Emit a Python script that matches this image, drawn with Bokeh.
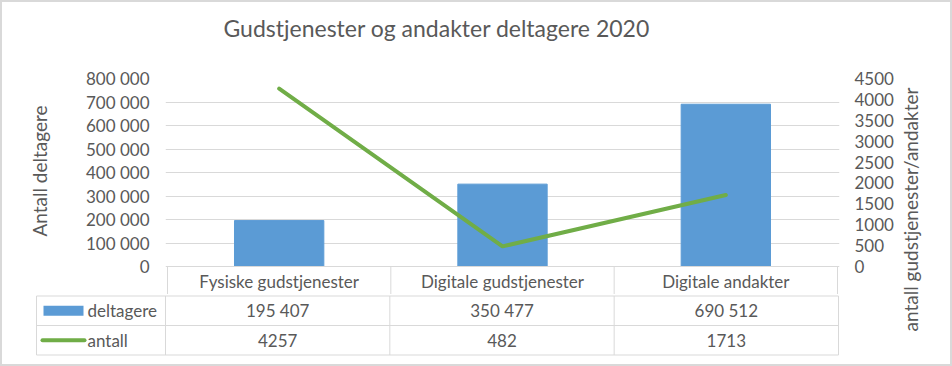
from bokeh.plotting import figure
from bokeh.models import Range1d, LinearAxis, FixedTicker, Title
from bokeh.layouts import row, column
from bokeh.core.properties import value
from bokeh.embed import file_html
from bokeh.resources import INLINE

# ---------------- data ----------------
categories = ["Fysiske gudstjenester", "Digitale gudstjenester", "Digitale andakter"]
deltagere = [195407, 350477, 690512]
antall = [4257, 482, 1713]
series_names = ["deltagere", "antall"]
left_ticks = [0, 100000, 200000, 300000, 400000, 500000, 600000, 700000, 800000]
left_tick_labels = ["0", "100 000", "200 000", "300 000", "400 000",
                    "500 000", "600 000", "700 000", "800 000"]
right_ticks = [0, 500, 1000, 1500, 2000, 2500, 3000, 3500, 4000, 4500]
deltagere_labels = ["195 407", "350 477", "690 512"]
antall_labels = ["4257", "482", "1713"]
title_text = "Gudstjenester og andakter deltagere 2020"
left_axis_title = "Antall deltagere"
right_axis_title = "antall gudstjenester/andakter"

# ---------------- style ----------------
BLUE = "#5B9BD5"
GREEN = "#70AD47"
TXT = "#595959"
GRID = "#D9D9D9"
FONT = "Lato"

# layout constants (pixels)
TOTAL_W, TOTAL_H = 952, 366
MAIN_W = 896
LL_W = 82                        # width of the left axis-title strip
CAT_L, CAT_R = 165, 838          # x of category 0 start / category 3 end
PX = (CAT_R - CAT_L) / 3.0       # px per category
FR_TOP = 78                      # frame top (800 000)
ZERO_Y = 266                     # y of value 0
HDR_IN_TOP = 28                  # part of header row inside top figure
ROW_H = 29.5
LEG_L = 36                       # left edge of legend column
YMAX = left_ticks[-1]
YPX = (ZERO_Y - FR_TOP) / YMAX   # px per unit
RMAX = right_ticks[-1]

xs = [i + 0.5 for i in range(len(categories))]

# ---------------- top figure (chart + header row) ----------------
TOP_H = ZERO_Y + HDR_IN_TOP
y0 = -HDR_IN_TOP / YPX
top = figure(width=MAIN_W - LL_W, height=TOP_H, output_backend="svg",
             toolbar_location=None, title=None,
             x_range=Range1d(-2 / PX, 3 + 2 / PX), y_range=Range1d(y0, YMAX),
             min_border_left=CAT_L - 2 - LL_W, min_border_right=MAIN_W - CAT_R - 2,
             min_border_top=FR_TOP, min_border_bottom=0, x_axis_location=None)
top.frame_align = False
top.outline_line_color = None
top.background_fill_color = None
top.border_fill_color = None

spacer = Title(text=" ", text_font_size="2px", standoff=30)
top.add_layout(spacer, "above")
main_title = Title(text=title_text, text_font=FONT, text_font_size="23px",
                   text_font_style="normal", text_color=TXT, align="left",
                   offset=58, standoff=6)
top.add_layout(main_title, "above")

top.xgrid.visible = False
top.ygrid.ticker = FixedTicker(ticks=left_ticks)
top.ygrid.grid_line_color = GRID
top.ygrid.grid_line_width = 1

ya = top.yaxis[0]
ya.ticker = FixedTicker(ticks=left_ticks)
ya.major_label_overrides = {t: l for t, l in zip(left_ticks, left_tick_labels)}
ya.axis_line_color = None
ya.major_tick_line_color = None
ya.minor_tick_line_color = None
ya.major_tick_out = 0
ya.major_tick_in = 0
ya.major_label_standoff = 16
ya.major_label_text_font = FONT
ya.major_label_text_font_size = "17px"
ya.major_label_text_color = TXT

top.extra_y_ranges = {"r": Range1d(y0 * RMAX / YMAX, RMAX)}
ra = LinearAxis(y_range_name="r", ticker=FixedTicker(ticks=right_ticks))
ra.axis_line_color = None
ra.major_tick_line_color = None
ra.minor_tick_line_color = None
ra.major_tick_out = 0
ra.major_tick_in = 0
ra.major_label_standoff = 15
ra.major_label_text_font = FONT
ra.major_label_text_font_size = "17px"
ra.major_label_text_color = TXT
top.add_layout(ra, "right")

top.vbar(x=xs, top=deltagere, width=0.4, color=BLUE)
top.line(x=xs, y=antall, y_range_name="r", line_color=GREEN, line_width=4,
         line_cap="round", line_join="round")

# header row (category axis as table header)
top.segment(x0=[0], y0=[0], x1=[3], y1=[0], line_color=GRID, line_width=1)
top.segment(x0=[0, 1, 2, 3], y0=[0] * 4, x1=[0, 1, 2, 3], y1=[y0] * 4,
            line_color=GRID, line_width=1)
hdr_y = -(ROW_H / 2) / YPX
top.text(x=xs, y=[hdr_y] * 3, text=categories, text_align="center",
         text_baseline="middle", text_font=value(FONT), text_font_size="17px",
         text_color=TXT)

# ---------------- left axis title strip ----------------
LL_CENTER = 170.5
ll = figure(width=LL_W, height=TOP_H, output_backend="svg", toolbar_location=None,
            x_range=Range1d(0, 1), y_range=Range1d(0, 1),
            min_border_left=0, min_border_right=0,
            min_border_top=int(2 * LL_CENTER - TOP_H), min_border_bottom=0,
            x_axis_location=None, y_axis_location=None, title_location="left")
ll.frame_align = False
ll.outline_line_color = None
ll.grid.visible = False
ll.background_fill_color = None
ll.border_fill_color = None
ll.title.text = left_axis_title
ll.title.text_font = FONT
ll.title.text_font_size = "19px"
ll.title.text_font_style = "normal"
ll.title.text_color = TXT
ll.title.align = "center"
ll.title.standoff = 50

# ---------------- bottom figure (data table rows) ----------------
BOT_H = TOTAL_H - TOP_H
BOT_BORDER = 9
pad_top = ZERO_Y + ROW_H - TOP_H           # px from frame top to first line
BOT_FR_H = BOT_H - BOT_BORDER
ys0 = -(BOT_FR_H - pad_top - 2 * ROW_H) / ROW_H
ys1 = 2 + pad_top / ROW_H
bx0 = -(CAT_L - (LEG_L - 2)) / PX
bot = figure(width=MAIN_W, height=BOT_H, output_backend="svg", toolbar_location=None,
             x_range=Range1d(bx0, 3 + 2 / PX), y_range=Range1d(ys0, ys1),
             min_border_left=LEG_L - 2, min_border_right=MAIN_W - CAT_R - 2,
             min_border_top=0, min_border_bottom=BOT_BORDER,
             x_axis_location=None, y_axis_location=None)
bot.frame_align = False
bot.outline_line_color = None
bot.grid.visible = False
bot.background_fill_color = None
bot.border_fill_color = None

legx = -(CAT_L - LEG_L) / PX
bot.segment(x0=[legx] * 3, y0=[0, 1, 2], x1=[3] * 3, y1=[0, 1, 2],
            line_color=GRID, line_width=1)
bot.segment(x0=[legx, 0, 1, 2, 3], y0=[0] * 5, x1=[legx, 0, 1, 2, 3], y1=[2] * 5,
            line_color=GRID, line_width=1)

# legend keys
key_cx = (63 - CAT_L) / PX
bot.rect(x=[key_cx], y=[1.5], width=40, height=10, width_units="screen",
         height_units="screen", fill_color=BLUE, line_color=None)
bot.segment(x0=[(42 - CAT_L) / PX], y0=[0.5], x1=[(84 - CAT_L) / PX], y1=[0.5],
            line_color=GREEN, line_width=4, line_cap="round")
lab_x = (87 - CAT_L) / PX
bot.text(x=[lab_x, lab_x], y=[1.5, 0.5], text=series_names, text_align="left",
         text_baseline="middle", text_font=value(FONT), text_font_size="17px",
         text_color=TXT)

bot.text(x=xs, y=[1.5] * 3, text=deltagere_labels, text_align="center",
         text_baseline="middle", text_font=value(FONT), text_font_size="17px",
         text_color=TXT)
bot.text(x=xs, y=[0.5] * 3, text=antall_labels, text_align="center",
         text_baseline="middle", text_font=value(FONT), text_font_size="17px",
         text_color=TXT)

# ---------------- right axis title ----------------
RL_W = TOTAL_W - MAIN_W
rl = figure(width=RL_W, height=TOTAL_H, output_backend="svg", toolbar_location=None,
            x_range=Range1d(0, 1), y_range=Range1d(0, 1),
            min_border_left=0, min_border_right=0, min_border_top=52,
            min_border_bottom=0, x_axis_location=None, y_axis_location=None,
            title_location="left")
rl.frame_align = False
rl.outline_line_color = None
rl.grid.visible = False
rl.background_fill_color = None
rl.border_fill_color = None
rl.title.text = right_axis_title
rl.title.text_font = FONT
rl.title.text_font_size = "19px"
rl.title.text_font_style = "normal"
rl.title.text_color = TXT
rl.title.align = "center"
rl.title.standoff = 0

layout = row(column(row(ll, top), bot), rl,
             styles={"outline": "2px solid #D9D9D9", "outline-offset": "-2px",
                     "background-color": "white"})

open("out.html", "w").write(file_html(layout, INLINE))
